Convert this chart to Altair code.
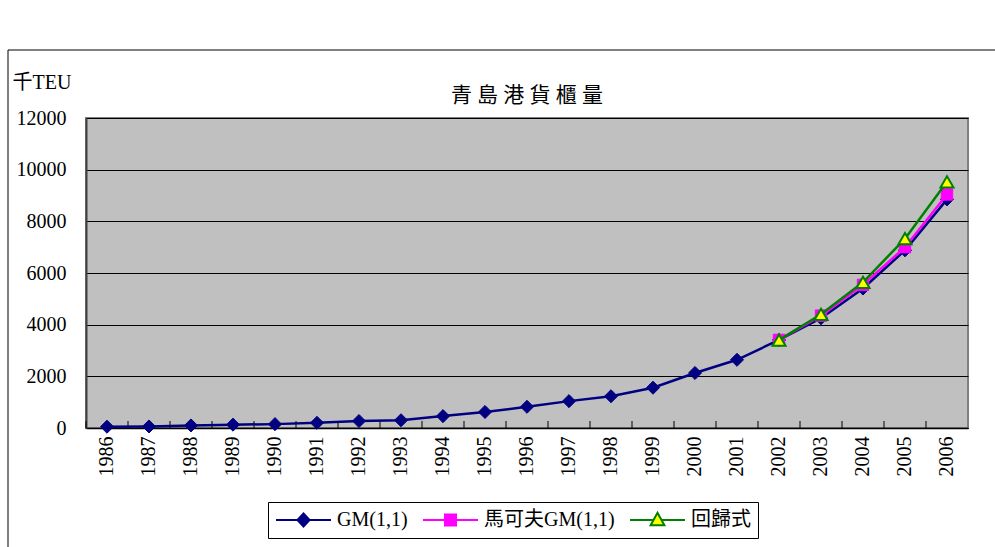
import altair as alt
import pandas as pd

# Container throughput of Qingdao port (thousand TEU)
years = [str(y) for y in range(1986, 2007)]
gm_values = [50, 60, 100, 130, 150, 200, 270, 300, 460, 620, 820, 1040, 1230, 1560,
             2130, 2640, 3410, 4250, 5400, 6880, 8850]
forecast_years = ["2002", "2003", "2004", "2005", "2006"]
markov_values = [3410, 4350, 5540, 7000, 9040]
regression_values = [3400, 4400, 5640, 7330, 9530]
series_names = ["GM(1,1)", "馬可夫GM(1,1)", "回歸式"]
y_ticks = [0, 2000, 4000, 6000, 8000, 10000, 12000]
chart_title = "青\u2005島\u2005港\u2005貨\u2005櫃\u2005量"

SERIF = "Times New Roman, Liberation Serif, serif"
SERIF_CJK = "Times New Roman, Liberation Serif, Noto Sans CJK TC, serif"
NAVY, MAGENTA, GREEN, YELLOW = "#000080", "#FF00FF", "#008000", "#FFFF00"

gm = pd.DataFrame({"year": years, "value": gm_values, "series": series_names[0]})
markov = pd.DataFrame({"year": forecast_years, "value": markov_values, "series": series_names[1]})
regression = pd.DataFrame({"year": forecast_years, "value": regression_values, "series": series_names[2]})
all_data = pd.concat([gm, markov, regression], ignore_index=True)

x_scale = alt.Scale(type="band", domain=years, paddingInner=0, paddingOuter=0)
y_scale = alt.Scale(domain=[0, 12000], nice=False)

x_axis = alt.Axis(title=None, labelAngle=270, labelFont=SERIF, labelFontSize=20,
                  labelColor="black", labelPadding=8, ticks=False, grid=False,
                  domainColor="black", domainWidth=1.5)
y_axis = alt.Axis(values=y_ticks, format="d", title="千TEU", titleAngle=0, titleAlign="left",
                  titleBaseline="alphabetic", titleX=-74, titleY=-30, titleFont=SERIF_CJK,
                  titleFontSize=20, titleFontWeight="normal", titleColor="black",
                  labelFont=SERIF, labelFontSize=20, labelColor="black", labelPadding=20,
                  ticks=False, grid=True, gridColor="black", gridWidth=1,
                  domainColor="#404040", domainWidth=2)


def xenc(band=0.5):
    return alt.X("year:O", scale=x_scale, bandPosition=band, axis=x_axis)


def yenc():
    return alt.Y("value:Q", scale=y_scale, axis=y_axis)


def series_layers(frame, color, point_mark):
    line = alt.Chart(frame).mark_line(color=color, strokeWidth=2.5).encode(x=xenc(), y=yenc())
    pts = alt.Chart(frame).mark_point(**point_mark).encode(x=xenc(), y=yenc())
    return [line, pts]


one_row = pd.DataFrame({"label": [chart_title]})

# Outer frame of the chart object
frame = alt.Chart(one_row).mark_rect(
    fillOpacity=0, stroke="black", strokeWidth=1, clip=False
).encode(x=alt.value(-78), x2=alt.value(930), y=alt.value(-68), y2=alt.value(460))

# Chart title, centred over the plot area
title = alt.Chart(one_row).mark_text(
    font="Noto Sans CJK TC", fontSize=21, color="black", align="center", baseline="bottom"
).encode(text="label:N", x=alt.value(441), y=alt.value(-12))

# Inward tick marks on the category axis at band boundaries
ticks = alt.Chart(gm).mark_rule(color="black", strokeWidth=1).encode(
    x=xenc(band=0), y=alt.Y(datum=0, scale=y_scale, axis=y_axis), y2=alt.datum(270)
)

layers = [frame, title, ticks]
layers += series_layers(gm, NAVY, dict(shape="diamond", filled=True, fill=NAVY, stroke=NAVY,
                                      strokeWidth=1, size=170, opacity=1))
layers += series_layers(markov, MAGENTA, dict(shape="square", filled=True, fill=MAGENTA,
                                             stroke=MAGENTA, strokeWidth=1, size=130, opacity=1))
layers += series_layers(regression, GREEN, dict(shape="triangle-up", filled=True, fill=YELLOW,
                                               stroke=GREEN, strokeWidth=2, size=170, opacity=1))

# Legend symbols: a line segment with the series marker in the middle
legend_paths = [
    "M-1,0L1,0M0,-0.24L0.22,0L0,0.24L-0.22,0Z",
    "M-1,0L1,0M-0.2,-0.2L0.2,-0.2L0.2,0.2L-0.2,0.2Z",
    "M-1,0L-0.14,0M0.14,0L1,0M0,-0.26L0.25,0.19L-0.25,0.19Z",
]
leg = alt.Legend(title=None, orient="none", legendX=182, legendY=384, direction="horizontal",
                 strokeColor="black", fillColor="white", padding=7, labelFont=SERIF_CJK,
                 labelFontSize=20, labelColor="black", labelOffset=5, columnPadding=14,
                 symbolSize=3025, clipHeight=22, symbolStrokeWidth=2)
legend_layer = alt.Chart(all_data).transform_filter("false").mark_point(
    filled=True, opacity=1, strokeWidth=2
).encode(
    x=xenc(), y=yenc(),
    shape=alt.Shape("series:N", scale=alt.Scale(domain=series_names, range=legend_paths), legend=leg),
    fill=alt.Fill("series:N", scale=alt.Scale(domain=series_names, range=[NAVY, MAGENTA, YELLOW]), legend=leg),
    stroke=alt.Stroke("series:N", scale=alt.Scale(domain=series_names, range=[NAVY, MAGENTA, GREEN]), legend=leg),
)
layers.append(legend_layer)

chart = alt.layer(*layers).properties(
    width=882, height=310,
    autosize=alt.AutoSizeParams(type="none"),
    padding={"left": 86, "top": 118, "right": 27, "bottom": 119},
    background="white",
).configure_view(fill="#C0C0C0", stroke="#808080", strokeWidth=2)

chart.save("out.html", embed_options={"renderer": "svg", "actions": False})
